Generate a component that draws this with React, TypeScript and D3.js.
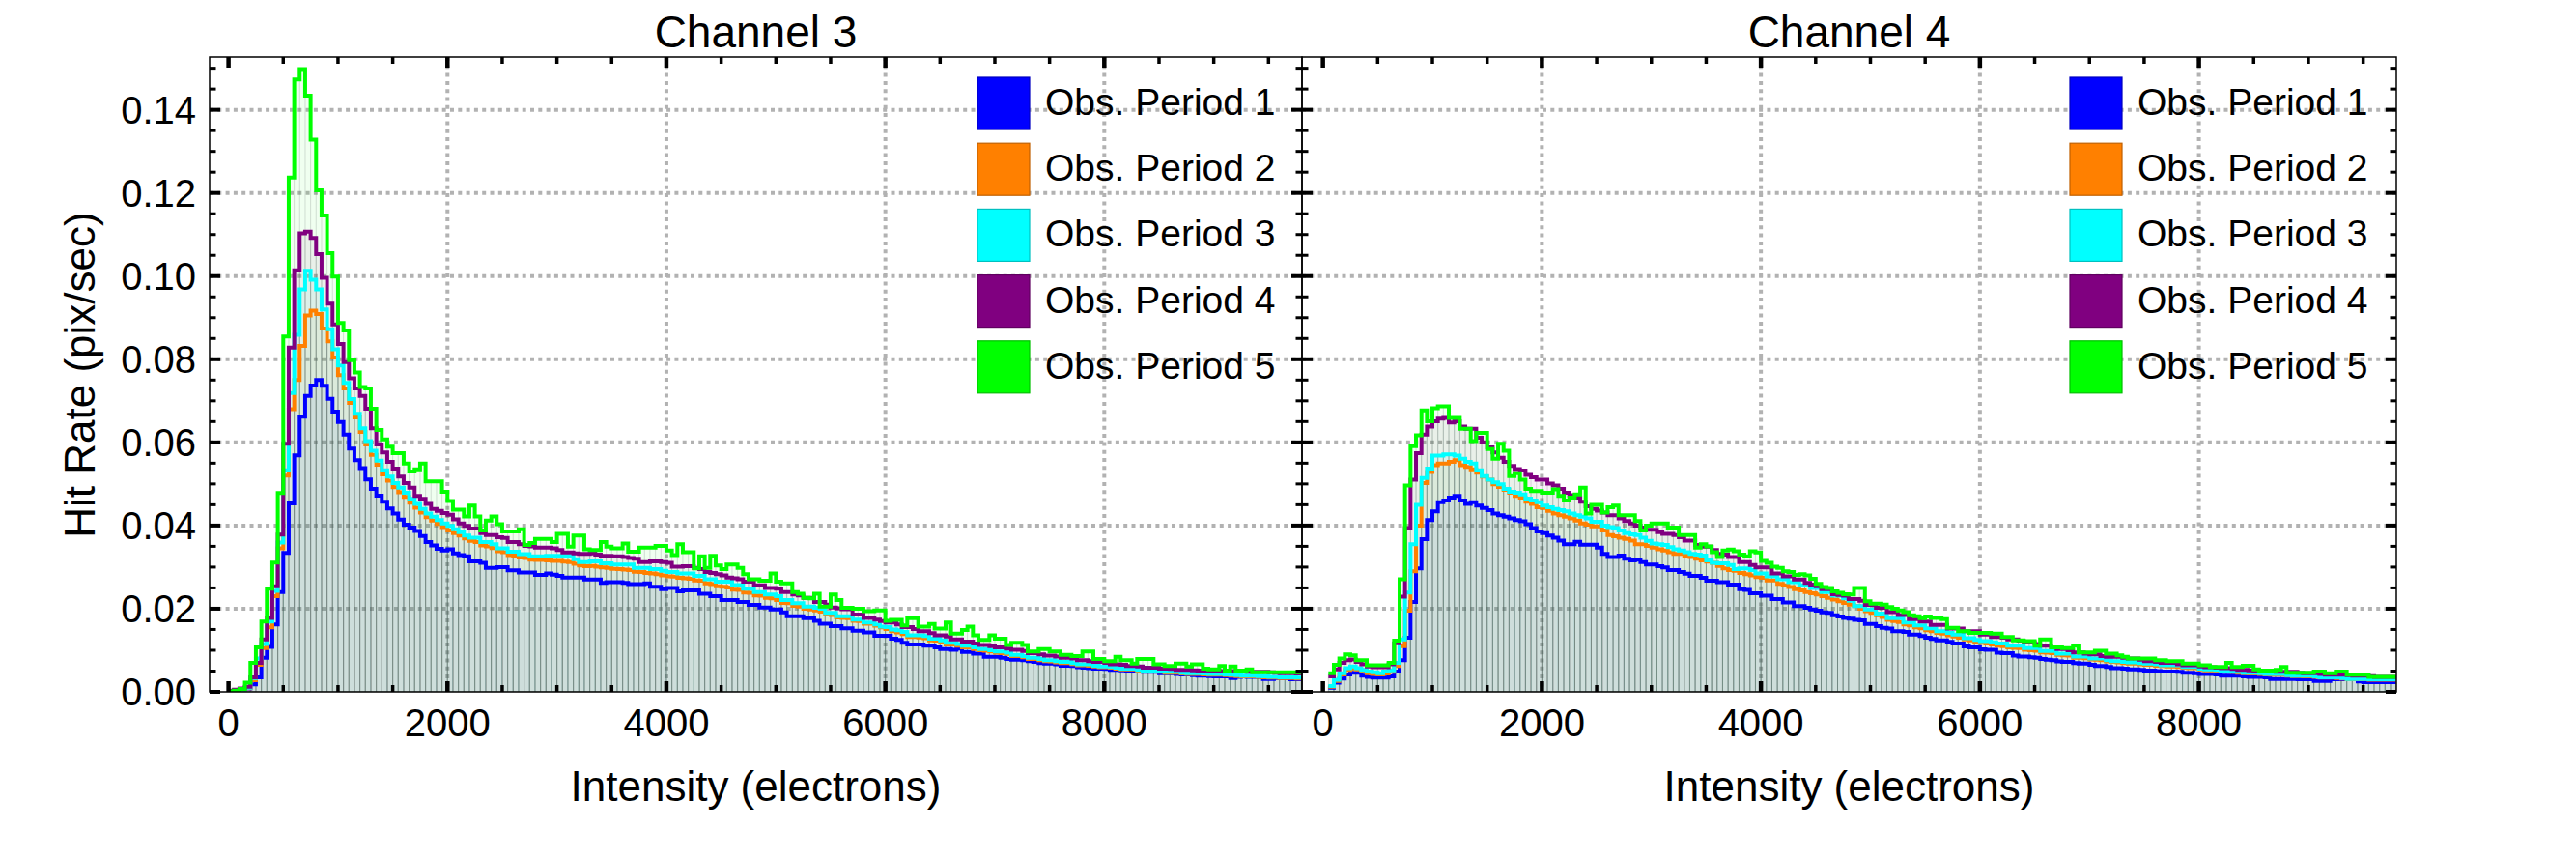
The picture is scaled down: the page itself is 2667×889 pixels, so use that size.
import { useEffect, useRef } from "react";
import * as d3 from "d3";

// Histogram bins are 50 electrons wide, starting at 0; values are hit rates in 1e-3 pix/sec.
const binWidth = 50;
const rateUnit = 1e-3;

const periodNames = ["Obs. Period 1", "Obs. Period 2", "Obs. Period 3", "Obs. Period 4", "Obs. Period 5"];
const periodColors = ["#0000ff", "#ff8000", "#00ffff", "#800080", "#00ff00"];
const xTickValues = [0, 2000, 4000, 6000, 8000];
const yTickValues = [0, 0.02, 0.04, 0.06, 0.08, 0.1, 0.12, 0.14];

const ch3Period1 = [
  0.2, 0.4, 0.6, 0.8, 1.8, 3.5, 8.2, 10.8, 16.2, 24.0,
  33.4, 45.3, 56.9, 66.2, 71.2, 73.7, 75.0, 73.6, 70.5, 67.4,
  64.9, 61.9, 58.5, 55.7, 53.8, 51.1, 48.8, 47.2, 45.7, 44.1,
  42.9, 41.4, 40.2, 39.5, 38.7, 37.5, 36.0, 35.2, 34.4, 34.0,
  34.3, 33.3, 32.9, 32.6, 31.4, 31.4, 31.0, 29.8, 29.8, 30.0,
  30.0, 29.2, 29.2, 28.7, 28.7, 28.7, 28.1, 28.1, 28.5, 28.2,
  27.9, 27.5, 27.5, 27.5, 27.5, 27.0, 27.0, 27.0, 26.2, 26.4,
  26.4, 26.4, 26.2, 25.9, 25.9, 25.9, 26.1, 25.3, 25.3, 24.7,
  25.0, 25.0, 24.2, 24.4, 24.4, 24.4, 23.6, 23.6, 23.0, 23.0,
  22.1, 22.1, 22.1, 21.6, 21.6, 20.9, 20.9, 20.3, 20.3, 19.8,
  19.8, 19.1, 18.2, 18.2, 18.2, 17.7, 17.7, 17.1, 16.4, 16.4,
  15.8, 15.8, 15.3, 15.3, 14.7, 14.7, 14.3, 14.3, 13.5, 13.5,
  13.5, 12.8, 12.5, 11.8, 11.4, 11.4, 11.4, 11.1, 11.1, 10.7,
  10.3, 10.3, 10.1, 10.4, 9.6, 9.6, 9.2, 9.2, 8.4, 8.4,
  8.4, 8.2, 7.9, 7.7, 7.7, 7.6, 7.4, 7.2, 6.9, 6.8,
  6.8, 6.6, 6.3, 6.3, 6.2, 5.9, 5.8, 5.7, 5.6, 5.6,
  5.5, 5.3, 5.3, 5.2, 5.1, 5.1, 5.0, 4.8, 4.8, 4.8,
  4.5, 4.5, 4.5, 4.3, 4.2, 4.2, 4.0, 3.9, 3.9, 3.8,
  3.7, 3.7, 3.7, 3.3, 3.6, 3.7, 3.6, 3.6, 3.6, 3.1,
  3.1, 3.3, 3.3, 3.3, 3.0, 3.0,
];
const ch3Period2 = [
  0.2, 0.4, 0.6, 0.9, 2.8, 6.5, 10.5, 15.5, 23.0, 34.5,
  52.0, 68.0, 75.0, 83.2, 90.5, 91.7, 90.9, 87.4, 84.3, 80.4,
  76.2, 73.0, 69.5, 66.0, 62.5, 59.5, 57.0, 54.6, 52.3, 50.8,
  49.2, 48.0, 46.9, 45.5, 44.3, 43.1, 42.0, 41.2, 40.4, 39.6,
  38.8, 38.2, 37.6, 36.9, 36.3, 36.0, 35.2, 35.0, 34.6, 33.8,
  33.6, 32.9, 32.8, 32.3, 32.2, 31.8, 31.7, 31.7, 31.6, 31.5,
  31.5, 31.3, 31.2, 30.8, 30.4, 30.2, 30.3, 30.1, 29.9, 29.8,
  29.6, 29.5, 29.4, 29.3, 28.9, 28.8, 28.6, 28.5, 28.3, 28.0,
  27.8, 27.7, 27.4, 27.3, 27.2, 26.8, 26.7, 26.1, 25.9, 25.4,
  25.3, 25.1, 24.6, 24.5, 23.9, 23.8, 23.2, 23.1, 22.6, 22.5,
  22.1, 21.4, 21.3, 20.7, 20.5, 20.0, 19.8, 19.6, 19.3, 18.6,
  18.5, 17.9, 17.8, 17.7, 17.1, 17.0, 16.4, 16.4, 15.9, 15.5,
  15.1, 14.6, 14.3, 13.9, 13.2, 13.2, 13.1, 12.9, 12.4, 12.3,
  12.0, 11.4, 11.4, 11.1, 10.7, 10.7, 10.3, 10.0, 9.9, 9.7,
  9.4, 9.3, 9.1, 8.6, 8.6, 8.3, 7.9, 7.9, 7.6, 7.4,
  7.3, 7.1, 6.9, 6.9, 6.7, 6.4, 6.4, 6.3, 6.1, 5.9,
  5.9, 5.8, 5.6, 5.4, 5.4, 5.4, 5.1, 4.9, 4.9, 4.9,
  4.8, 4.6, 4.6, 4.6, 4.4, 4.3, 4.3, 4.3, 4.2, 4.1,
  4.1, 4.1, 4.0, 3.9, 3.8, 3.7, 3.7, 3.7, 3.6, 3.5,
  3.4, 3.4, 3.3, 3.3, 3.3, 3.2,
];
const ch3Period3 = [
  0.2, 0.4, 0.6, 1.0, 3.3, 8.0, 11.5, 16.9, 24.3, 35.9,
  53.3, 71.9, 85.9, 96.8, 101.3, 99.1, 96.8, 92.0, 87.2, 82.4,
  78.5, 74.3, 70.4, 66.9, 63.4, 60.3, 58.0, 55.6, 53.3, 51.8,
  50.2, 49.1, 47.9, 46.4, 45.2, 44.0, 42.9, 42.1, 41.3, 40.5,
  39.9, 39.1, 38.4, 37.6, 37.1, 37.1, 36.0, 36.0, 35.5, 34.5,
  34.5, 33.7, 33.7, 33.1, 33.1, 32.6, 32.6, 32.6, 32.7, 32.7,
  32.7, 32.7, 32.7, 31.9, 31.2, 31.2, 31.4, 31.4, 30.9, 30.9,
  30.6, 30.6, 30.6, 30.6, 29.8, 29.8, 29.8, 29.5, 29.5, 29.1,
  28.8, 28.8, 28.5, 28.5, 28.5, 27.9, 27.9, 27.1, 27.1, 26.5,
  26.5, 26.5, 25.7, 25.7, 24.8, 24.8, 24.0, 24.0, 23.4, 23.4,
  23.0, 22.1, 22.1, 21.3, 21.3, 20.5, 20.5, 20.2, 20.0, 19.0,
  19.0, 18.2, 18.2, 18.2, 17.4, 17.4, 16.7, 16.7, 16.2, 15.7,
  15.6, 15.0, 14.8, 14.4, 13.6, 13.6, 13.6, 13.4, 12.8, 12.8,
  12.4, 11.8, 11.8, 11.5, 11.1, 11.1, 10.7, 10.3, 10.3, 10.0,
  9.7, 9.7, 9.4, 8.9, 8.9, 8.6, 8.2, 8.2, 7.9, 7.6,
  7.6, 7.4, 7.2, 7.2, 6.9, 6.6, 6.6, 6.6, 6.3, 6.1,
  6.1, 6.0, 5.8, 5.6, 5.6, 5.6, 5.3, 5.1, 5.1, 5.1,
  5.0, 4.8, 4.8, 4.8, 4.6, 4.5, 4.5, 4.5, 4.4, 4.3,
  4.3, 4.3, 4.2, 4.1, 4.0, 3.9, 3.9, 3.9, 3.8, 3.7,
  3.6, 3.6, 3.5, 3.5, 3.5, 3.4,
];
const ch3Period4 = [
  0.3, 0.5, 0.8, 1.2, 3.5, 7.0, 12.6, 17.8, 25.4, 37.8,
  59.7, 82.8, 101.4, 110.3, 110.7, 109.2, 105.3, 99.6, 93.4, 88.4,
  83.7, 79.3, 75.4, 73.0, 71.2, 68.1, 63.4, 59.5, 57.6, 55.3,
  53.7, 51.8, 50.2, 49.1, 47.1, 46.4, 45.2, 44.0, 43.5, 43.0,
  42.6, 41.5, 40.5, 39.9, 39.3, 39.3, 38.2, 37.7, 37.7, 37.2,
  37.0, 36.0, 36.0, 35.5, 35.1, 35.0, 34.7, 34.7, 34.7, 34.5,
  34.1, 33.5, 33.5, 33.3, 33.2, 33.2, 33.3, 33.0, 32.7, 32.7,
  32.6, 32.6, 32.4, 32.2, 32.0, 31.2, 31.2, 31.4, 31.4, 31.2,
  31.0, 30.1, 30.1, 30.2, 30.2, 29.8, 29.5, 28.8, 28.6, 28.3,
  28.0, 27.5, 27.3, 27.1, 26.5, 26.5, 25.6, 25.6, 25.0, 25.0,
  24.8, 24.0, 24.0, 23.4, 23.2, 22.6, 22.6, 21.6, 21.6, 21.0,
  20.3, 20.1, 19.9, 19.9, 18.6, 18.6, 17.8, 17.8, 17.4, 17.0,
  16.7, 16.7, 16.2, 15.6, 15.6, 15.1, 14.6, 14.6, 14.1, 13.6,
  13.6, 13.3, 12.6, 12.6, 12.1, 12.1, 11.6, 11.3, 11.3, 11.0,
  10.7, 10.7, 10.4, 10.1, 10.1, 9.8, 9.3, 9.3, 9.0, 8.7,
  8.7, 8.5, 8.2, 8.2, 8.0, 7.6, 7.6, 7.4, 7.2, 7.2,
  7.0, 6.6, 6.6, 6.5, 6.2, 6.2, 6.1, 5.8, 5.8, 5.8,
  5.6, 5.6, 5.5, 5.3, 5.3, 5.3, 5.2, 5.1, 5.1, 5.1,
  5.1, 5.0, 5.0, 5.0, 4.9, 4.9, 4.8, 4.8, 4.8, 4.8,
  4.7, 4.6, 4.5, 4.5, 4.5, 4.4,
];
const ch3Period5 = [
  0.1, 0.3, 0.7, 2.2, 7.0, 10.7, 16.9, 24.8, 31.1, 47.8,
  85.5, 123.7, 147.3, 149.8, 143.4, 132.8, 120.6, 114.6, 105.5, 99.9,
  88.7, 86.9, 79.8, 76.8, 73.3, 73.0, 68.1, 63.0, 60.7, 59.0,
  57.4, 57.4, 54.9, 53.0, 53.5, 54.9, 50.6, 50.6, 50.6, 48.1,
  45.9, 43.8, 43.8, 42.2, 44.8, 42.2, 38.8, 41.2, 42.2, 40.3,
  38.6, 38.6, 38.6, 39.1, 35.3, 35.8, 36.8, 36.8, 36.8, 36.0,
  38.0, 38.0, 34.9, 37.6, 37.6, 34.3, 34.1, 34.1, 36.0, 34.9,
  34.5, 34.5, 35.7, 33.7, 33.7, 34.7, 34.7, 34.7, 35.1, 35.1,
  34.0, 32.9, 35.5, 33.6, 33.6, 29.7, 32.6, 29.8, 32.7, 30.4,
  29.5, 30.6, 30.6, 29.8, 28.3, 27.1, 27.1, 26.7, 26.7, 28.5,
  26.5, 26.1, 26.1, 24.0, 23.6, 22.6, 22.5, 23.6, 20.5, 20.5,
  23.4, 22.1, 20.2, 20.2, 20.0, 20.0, 19.4, 19.4, 19.6, 19.6,
  17.1, 17.3, 17.3, 16.0, 17.7, 17.7, 15.7, 15.7, 16.3, 15.2,
  15.2, 16.7, 14.0, 14.0, 14.9, 15.7, 13.6, 12.5, 12.5, 13.6,
  12.8, 12.8, 11.3, 11.8, 11.8, 11.3, 9.7, 9.7, 10.3, 10.3,
  9.7, 9.7, 8.9, 8.9, 8.6, 8.6, 9.7, 9.7, 7.9, 7.9,
  7.4, 7.4, 8.4, 7.6, 7.6, 6.8, 7.9, 7.9, 7.9, 6.6,
  6.6, 6.2, 6.2, 6.8, 6.8, 6.1, 6.6, 6.6, 5.6, 5.4,
  5.4, 6.2, 5.1, 6.1, 5.1, 5.1, 5.4, 4.7, 4.7, 4.7,
  4.7, 4.7, 4.7, 4.7, 4.7, 4.7,
];

const ch4Period1 = [
  0, 1.0, 2.2, 3.2, 4.2, 4.6, 4.6, 3.9, 3.6, 3.4,
  3.4, 3.4, 3.7, 4.9, 7.6, 13.0, 21.6, 29.7, 36.7, 41.3,
  43.4, 45.6, 46.0, 46.7, 47.1, 46.0, 45.2, 45.6, 44.8, 44.2,
  43.7, 42.9, 42.5, 42.1, 41.7, 41.3, 41.0, 40.3, 39.4, 38.6,
  38.2, 37.6, 37.1, 36.4, 35.5, 35.5, 36.1, 35.4, 35.4, 35.4,
  34.7, 33.2, 32.4, 32.4, 32.8, 32.0, 31.6, 31.8, 31.2, 30.6,
  30.6, 30.2, 29.9, 29.3, 29.3, 28.8, 28.4, 27.9, 27.9, 27.4,
  26.7, 26.7, 26.4, 26.4, 25.8, 25.8, 24.7, 24.5, 23.7, 23.7,
  23.1, 23.1, 22.3, 22.3, 21.5, 21.5, 20.6, 20.6, 20.2, 19.8,
  19.5, 19.1, 19.0, 18.4, 18.1, 17.8, 17.6, 17.3, 17.2, 16.3,
  16.3, 15.8, 15.4, 15.2, 14.6, 14.6, 14.4, 13.8, 13.8, 13.4,
  13.0, 12.7, 12.4, 12.4, 12.0, 11.6, 11.6, 10.9, 10.7, 10.7,
  10.2, 10.1, 10.1, 9.4, 9.3, 9.3, 8.7, 8.5, 8.5, 8.3,
  8.2, 7.9, 7.7, 7.6, 7.3, 7.2, 7.2, 6.9, 6.8, 6.8,
  6.5, 6.2, 6.2, 6.0, 5.7, 5.7, 5.6, 5.4, 5.4, 5.3,
  5.1, 5.1, 5.0, 4.9, 4.9, 4.9, 4.8, 4.6, 4.6, 4.5,
  4.3, 4.3, 4.3, 4.2, 3.9, 3.9, 3.9, 3.9, 3.7, 3.6,
  3.6, 3.6, 3.5, 3.1, 3.1, 3.1, 3.1, 3.1, 3.0, 3.0,
  3.0, 2.6, 2.6, 2.6, 3.0, 3.0, 3.0, 3.0, 3.0, 2.5,
  2.3, 2.3, 2.3, 2.3, 2.3, 2.3,
];
const ch4Period2 = [
  0, 1.2, 2.6, 4.2, 5.3, 5.6, 5.4, 4.9, 4.5, 4.3,
  4.2, 4.4, 4.8, 6.2, 11.0, 19.5, 29.0, 40.0, 50.2, 52.9,
  54.5, 54.9, 54.9, 55.3, 55.7, 54.5, 54.1, 53.5, 52.7, 51.8,
  51.0, 49.9, 49.3, 48.6, 47.9, 47.1, 46.7, 45.7, 45.2, 44.4,
  44.2, 43.5, 42.9, 42.5, 42.1, 41.7, 41.2, 40.5, 40.2, 39.8,
  39.8, 38.8, 37.7, 37.4, 37.1, 36.8, 36.4, 35.5, 35.5, 35.1,
  34.7, 34.3, 34.0, 33.6, 33.2, 33.2, 32.8, 32.4, 32.0, 31.6,
  31.3, 31.0, 30.3, 29.7, 29.3, 29.1, 28.6, 28.3, 28.0, 27.6,
  27.4, 26.8, 26.8, 26.0, 25.6, 25.2, 24.7, 24.4, 24.0, 23.7,
  23.4, 23.0, 22.6, 22.2, 21.8, 21.4, 21.0, 20.6, 20.0, 19.4,
  19.0, 18.4, 18.0, 17.3, 17.0, 16.8, 16.2, 16.0, 15.5, 15.3,
  14.8, 14.6, 14.2, 14.0, 13.6, 13.3, 13.0, 12.6, 12.4, 12.0,
  11.8, 11.6, 11.4, 11.1, 11.0, 10.7, 10.6, 10.5, 10.1, 10.0,
  9.9, 9.5, 9.4, 9.3, 8.9, 8.8, 8.7, 8.2, 8.2, 8.1,
  7.8, 7.7, 7.6, 7.3, 7.2, 7.1, 6.9, 6.8, 6.8, 6.6,
  6.5, 6.5, 6.3, 6.2, 6.1, 6.1, 6.0, 5.8, 5.7, 5.7,
  5.4, 5.2, 5.2, 5.1, 4.9, 4.9, 4.8, 4.6, 4.5, 4.4,
  4.4, 4.3, 4.2, 4.1, 4.1, 4.1, 3.9, 3.8, 3.8, 3.7,
  3.7, 3.6, 3.4, 3.4, 3.4, 3.3, 3.2, 3.0, 3.0, 3.0,
  3.0, 2.9, 2.9, 2.9, 2.9, 2.9,
];
const ch4Period3 = [
  0, 1.4, 2.9, 4.5, 5.7, 6.1, 5.7, 5.3, 4.9, 4.7,
  4.5, 4.9, 5.2, 7.0, 12.6, 23.9, 35.5, 45.0, 51.4, 53.7,
  56.8, 56.8, 57.1, 57.1, 56.8, 56.1, 55.3, 54.9, 53.3, 51.9,
  51.0, 50.4, 49.9, 48.8, 48.1, 47.9, 47.5, 46.5, 46.0, 45.6,
  44.8, 44.4, 44.0, 43.7, 43.4, 42.9, 42.5, 42.1, 41.7, 40.9,
  40.9, 40.0, 39.6, 39.4, 38.8, 38.2, 37.9, 37.7, 37.1, 36.3,
  35.7, 35.5, 35.3, 34.8, 34.3, 34.0, 33.6, 33.2, 33.0, 32.8,
  31.6, 31.0, 30.9, 30.9, 30.5, 29.5, 29.7, 29.7, 29.3, 28.5,
  28.5, 27.8, 27.8, 27.1, 27.1, 26.4, 26.4, 25.6, 25.6, 25.0,
  25.0, 24.0, 24.0, 23.1, 23.1, 22.5, 21.9, 20.6, 20.6, 19.8,
  19.8, 18.8, 18.8, 17.7, 17.7, 17.7, 16.7, 16.7, 16.0, 16.0,
  15.3, 15.3, 14.6, 14.6, 14.2, 13.8, 13.8, 12.9, 12.9, 12.5,
  12.2, 12.2, 11.9, 11.6, 11.6, 11.1, 11.1, 11.1, 10.5, 10.5,
  10.5, 9.8, 9.8, 9.8, 9.2, 9.2, 9.2, 8.5, 8.5, 8.5,
  8.0, 8.0, 8.0, 7.6, 7.4, 7.4, 7.2, 7.1, 7.1, 6.9,
  6.8, 6.8, 6.6, 6.4, 6.4, 6.4, 6.4, 6.0, 6.0, 6.0,
  5.6, 5.4, 5.4, 5.3, 5.1, 5.1, 5.0, 4.8, 4.6, 4.6,
  4.6, 4.5, 4.3, 4.3, 4.3, 4.3, 4.0, 3.9, 3.9, 3.9,
  3.9, 3.7, 3.5, 3.5, 3.5, 3.5, 3.3, 3.1, 3.1, 3.1,
  3.1, 3.0, 3.0, 3.0, 3.0, 3.0,
];
const ch4Period4 = [
  0, 3.7, 5.4, 7.0, 7.6, 7.8, 7.2, 6.6, 6.1, 5.9,
  5.9, 5.9, 6.6, 11.7, 22.9, 39.4, 51.0, 57.4, 61.9, 63.8,
  65.1, 65.7, 65.9, 64.8, 65.1, 63.8, 63.3, 63.3, 61.1, 60.0,
  58.8, 57.6, 56.3, 55.3, 54.3, 53.6, 53.2, 52.2, 51.6, 51.0,
  51.0, 50.1, 49.6, 48.8, 47.9, 47.3, 46.7, 45.7, 44.6, 44.0,
  43.6, 43.1, 42.5, 42.5, 41.7, 41.1, 40.5, 40.0, 39.5, 39.0,
  39.0, 38.4, 38.0, 38.0, 37.7, 37.2, 36.4, 36.4, 35.3, 34.9,
  34.9, 34.1, 33.2, 33.0, 32.4, 32.4, 31.2, 31.2, 30.5, 29.9,
  29.9, 29.9, 28.5, 28.5, 27.8, 27.8, 27.0, 27.0, 26.2, 25.8,
  25.4, 24.7, 24.7, 23.5, 23.3, 23.1, 22.3, 22.3, 21.9, 20.9,
  20.9, 20.2, 20.2, 19.2, 19.2, 18.5, 18.5, 17.5, 17.5, 16.9,
  16.9, 16.1, 16.1, 16.1, 15.2, 15.2, 15.2, 14.6, 14.6, 14.6,
  13.8, 13.8, 13.2, 13.2, 13.0, 12.6, 12.6, 12.3, 11.9, 11.9,
  11.5, 11.1, 11.1, 10.7, 10.3, 10.3, 10.0, 9.5, 9.5, 9.2,
  9.0, 9.0, 8.6, 8.4, 8.4, 8.4, 8.2, 8.0, 8.0, 7.7,
  7.4, 7.4, 7.2, 7.0, 7.0, 7.0, 6.6, 6.4, 6.4, 6.4,
  6.1, 5.9, 5.9, 5.8, 5.7, 5.7, 5.5, 5.3, 5.3, 5.2,
  5.0, 5.0, 5.0, 4.9, 4.8, 4.8, 4.8, 4.8, 4.6, 4.5,
  4.5, 4.5, 4.3, 4.1, 4.1, 4.1, 4.1, 4.0, 3.9, 3.9,
  3.9, 3.8, 3.6, 3.6, 3.6, 3.6,
];
const ch4Period5 = [
  0, 4.5, 6.5, 8.0, 9.0, 8.8, 7.6, 7.6, 6.4, 6.4,
  6.4, 6.4, 7.0, 12.3, 27.1, 49.6, 59.1, 61.7, 67.7, 65.1,
  68.2, 68.7, 68.7, 65.9, 65.9, 63.3, 63.3, 60.3, 62.3, 62.3,
  58.4, 56.1, 59.7, 58.0, 51.9, 52.6, 51.0, 48.8, 48.3, 48.3,
  47.9, 47.9, 48.7, 47.1, 46.0, 46.7, 47.5, 49.1, 42.9, 45.0,
  45.0, 43.1, 44.4, 44.8, 42.5, 42.5, 42.5, 41.1, 38.8, 40.0,
  40.5, 40.5, 40.5, 39.5, 39.5, 37.7, 37.7, 37.7, 34.7, 35.5,
  35.0, 33.6, 32.4, 34.0, 34.2, 33.8, 33.0, 32.6, 33.8, 33.5,
  31.5, 31.0, 30.1, 29.8, 29.0, 28.8, 28.1, 28.3, 28.0, 27.2,
  26.0, 25.2, 25.0, 24.2, 23.8, 23.5, 23.4, 25.0, 25.0, 21.8,
  21.2, 21.2, 21.0, 20.4, 20.0, 19.6, 19.2, 18.4, 18.2, 17.7,
  18.1, 17.8, 17.8, 17.5, 15.4, 15.4, 14.6, 14.6, 14.2, 14.2,
  14.2, 14.2, 14.0, 14.0, 13.2, 13.2, 12.4, 12.4, 12.2, 12.2,
  11.1, 12.6, 12.6, 10.7, 10.7, 10.5, 10.5, 11.1, 9.5, 9.5,
  9.5, 9.9, 9.9, 9.2, 9.2, 8.8, 8.4, 8.0, 8.0, 8.0,
  8.0, 8.0, 7.6, 7.6, 7.4, 7.4, 7.4, 6.8, 6.8, 6.8,
  6.4, 6.4, 6.0, 6.0, 6.0, 7.0, 6.0, 6.0, 6.3, 6.3,
  5.4, 5.1, 5.1, 5.1, 5.3, 6.0, 4.6, 4.6, 4.6, 4.6,
  4.6, 4.9, 4.9, 4.5, 4.5, 4.9, 4.9, 4.1, 4.1, 4.1,
  4.1, 3.6, 3.6, 3.6, 3.6, 3.6,
];

const channels = [
  { title: "Channel 3", series: [ch3Period1, ch3Period2, ch3Period3, ch3Period4, ch3Period5] },
  { title: "Channel 4", series: [ch4Period1, ch4Period2, ch4Period3, ch4Period4, ch4Period5] },
];

export default function App() {
  const ref = useRef<SVGSVGElement>(null);

  useEffect(() => {
    const el = ref.current;
    if (!el) return;
    const W = 2667, H = 889;
    const font = "'Liberation Sans', Arial, Helvetica, sans-serif";
    const top = 59, bottom = 716;
    const frames = [
      { left: 217, right: 1348, domain: [-173, 9806] },
      { left: 1348, right: 2481, domain: [-191, 9803] },
    ];

    const svg = d3.select(el).attr("width", W).attr("height", H).attr("viewBox", `0 0 ${W} ${H}`);
    svg.selectAll("*").remove();
    svg.append("rect").attr("width", W).attr("height", H).attr("fill", "#ffffff");

    const y = d3.scaleLinear().domain([0, 0.1527]).range([bottom, top]);
    const gridColor = "#b2b2b2";

    channels.forEach((ch, p) => {
      const f = frames[p];
      const x = d3.scaleLinear().domain(f.domain).range([f.left, f.right]);
      const clipId = `plot-clip-${p}`;
      svg.append("clipPath").attr("id", clipId).append("rect")
        .attr("x", f.left).attr("y", top).attr("width", f.right - f.left).attr("height", bottom - top);
      const g = svg.append("g").attr("clip-path", `url(#${clipId})`);

      // dotted grid
      g.append("g").selectAll("line").data(xTickValues.filter((v) => v > 0)).join("line")
        .attr("x1", (d) => x(d)).attr("x2", (d) => x(d)).attr("y1", top).attr("y2", bottom)
        .attr("stroke", gridColor).attr("stroke-width", 4).attr("stroke-dasharray", "4 4.3");
      g.append("g").selectAll("line").data(yTickValues.filter((v) => v > 0)).join("line")
        .attr("x1", f.left).attr("x2", f.right).attr("y1", (d) => y(d)).attr("y2", (d) => y(d))
        .attr("stroke", gridColor).attr("stroke-width", 4).attr("stroke-dasharray", "4 4.3");

      // translucent histogram bars
      ch.series.forEach((vals, s) => {
        g.append("g").selectAll("rect").data(vals).join("rect")
          .attr("x", (_, i) => x(i * binWidth))
          .attr("width", (_, i) => x((i + 1) * binWidth) - x(i * binWidth))
          .attr("y", (d) => y(d * rateUnit))
          .attr("height", (d) => bottom - y(d * rateUnit))
          .attr("fill", periodColors[s]).attr("fill-opacity", 0.06)
          .attr("stroke", "#506060").attr("stroke-opacity", 0.11).attr("stroke-width", 1);
      });

      // step outlines
      const line = d3.line<[number, number]>()
        .x((d) => x(d[0])).y((d) => y(d[1] * rateUnit)).curve(d3.curveStepAfter);
      ch.series.forEach((vals, s) => {
        const start = vals.findIndex((v) => v > 0);
        const pts: [number, number][] = vals.slice(start).map((v, i) => [(start + i) * binWidth, v]);
        pts.push([vals.length * binWidth, vals[vals.length - 1]]);
        g.append("path").attr("d", line(pts)).attr("fill", "none")
          .attr("stroke", periodColors[s]).attr("stroke-width", 4).attr("stroke-linejoin", "miter");
      });

      // frame
      svg.append("rect").attr("x", f.left).attr("y", top).attr("width", f.right - f.left).attr("height", bottom - top)
        .attr("fill", "none").attr("stroke", "#000").attr("stroke-width", 1.5);

      // x ticks (minor every 500, major every 2000), top and bottom, pointing inward
      const xt = d3.range(0, 10000, 500).filter((v) => x(v) <= f.right);
      const tg = svg.append("g").attr("stroke", "#000");
      xt.forEach((v) => {
        const major = v % 2000 === 0;
        const len = major ? 11 : 7;
        const w = major ? 4.5 : 3.5;
        tg.append("line").attr("x1", x(v)).attr("x2", x(v)).attr("y1", bottom).attr("y2", bottom - len).attr("stroke-width", w);
        tg.append("line").attr("x1", x(v)).attr("x2", x(v)).attr("y1", top).attr("y2", top + len).attr("stroke-width", w);
      });
      // y ticks (minor every 0.005, major every 0.02), left and right
      d3.range(0, 31).forEach((k) => {
        const v = k * 0.005;
        const major = k % 4 === 0;
        const len = major ? 11 : 6.5;
        const w = major ? 4 : 3;
        tg.append("line").attr("x1", f.left).attr("x2", f.left + len).attr("y1", y(v)).attr("y2", y(v)).attr("stroke-width", w);
        tg.append("line").attr("x1", f.right).attr("x2", f.right - len).attr("y1", y(v)).attr("y2", y(v)).attr("stroke-width", w);
      });

      // x tick labels
      svg.append("g").selectAll("text").data(xTickValues).join("text")
        .attr("x", (d) => x(d)).attr("y", 762).attr("text-anchor", "middle")
        .attr("font-family", font).attr("font-size", 40).attr("fill", "#000").text((d) => String(d));

      // y tick labels only on the first panel
      if (p === 0) {
        svg.append("g").selectAll("text").data(yTickValues).join("text")
          .attr("x", 203).attr("y", (d) => y(d) + 14.3).attr("text-anchor", "end")
          .attr("font-family", font).attr("font-size", 40).attr("fill", "#000").text((d) => d3.format(".2f")(d));
      }

      const cx = (f.left + f.right) / 2;
      svg.append("text").attr("x", cx).attr("y", 49).attr("text-anchor", "middle")
        .attr("font-family", font).attr("font-size", 46).attr("fill", "#000").text(ch.title);
      svg.append("text").attr("x", cx).attr("y", 829).attr("text-anchor", "middle")
        .attr("font-family", font).attr("font-size", 44).attr("fill", "#000").text("Intensity (electrons)");

      // legend
      const lx = f.left + 795;
      const lg = svg.append("g");
      periodNames.forEach((name, s) => {
        const ty = 80 + s * 68.2;
        lg.append("rect").attr("x", lx).attr("y", ty).attr("width", 54).attr("height", 54)
          .attr("fill", periodColors[s]).attr("stroke", d3.color(periodColors[s])!.darker(0.8).formatHex()).attr("stroke-width", 1.2);
        lg.append("text").attr("x", lx + 70).attr("y", ty + 39)
          .attr("font-family", font).attr("font-size", 39).attr("fill", "#000").text(name);
      });
    });

    svg.append("text").attr("transform", "translate(98,388) rotate(-90)").attr("text-anchor", "middle")
      .attr("font-family", font).attr("font-size", 44).attr("fill", "#000").text("Hit Rate (pix/sec)");
  }, []);

  return <svg ref={ref} role="img" aria-label="Hit rate histograms" style={{ position: "absolute", left: 0, top: 0, display: "block" }} />;
}
